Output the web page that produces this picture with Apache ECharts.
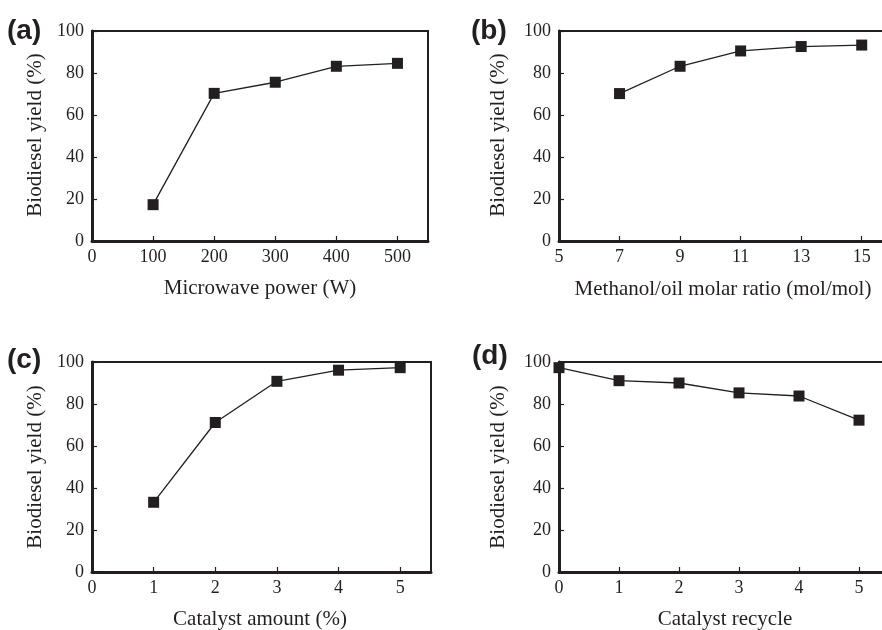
<!DOCTYPE html>
<html>
<head>
<meta charset="utf-8">
<script src="https://cdn.jsdelivr.net/npm/echarts@6/dist/echarts.min.js"></script>
<style>
  html, body { margin: 0; padding: 0; background: #fff; }
  #chart { width: 882px; height: 630px; }
</style>
</head>
<body>
<div id="chart"></div>
<script>
// data
const powerW = [100, 200, 300, 400, 500];
const yieldPower = [17.3, 70.3, 75.6, 83.2, 84.6];
const molarRatio = [7, 9, 11, 13, 15];
const yieldRatio = [70.2, 83.2, 90.5, 92.6, 93.3];
const catalystAmt = [1, 2, 3, 4, 5];
const yieldCatalyst = [33.2, 71.2, 90.8, 96.1, 97.3];
const recycleNo = [0, 1, 2, 3, 4, 5];
const yieldRecycle = [97.3, 91.1, 90.0, 85.3, 83.8, 72.3];

const ticksA = [0, 100, 200, 300, 400, 500];
const ticksB = [5, 7, 9, 11, 13, 15];
const ticksC = [0, 1, 2, 3, 4, 5];
const ticksD = [0, 1, 2, 3, 4, 5];

const ink = '#231f20';
const serif = 'Liberation Serif';

// (b) and (d) run past the right edge of the picture, as in the source
const grids = [
  { left: 92, top: 31, width: 336, height: 210 },
  { left: 559, top: 31, width: 333, height: 210 },
  { left: 92, top: 362, width: 339, height: 210 },
  { left: 559, top: 362, width: 330, height: 210 }
].map(g => Object.assign(g, {
  show: true, borderColor: ink, borderWidth: 2, backgroundColor: 'transparent',
  containLabel: false, outerBoundsMode: 'none'
}));

function xAx(i, min, max, ticks) {
  return {
    gridIndex: i, type: 'value', min: min, max: max,
    axisLine: { show: true, lineStyle: { color: ink, width: 3 } },
    axisTick: { show: true, inside: true, length: 5, lineStyle: { color: ink, width: 1.2 }, customValues: ticks },
    axisLabel: { color: ink, fontFamily: serif, fontSize: 18, margin: 7, customValues: ticks },
    splitLine: { show: false }
  };
}
function yAx(i) {
  return {
    gridIndex: i, type: 'value', min: 0, max: 100, interval: 20,
    axisLine: { show: true, lineStyle: { color: ink, width: 3 } },
    axisTick: { show: true, inside: true, length: 5, lineStyle: { color: ink, width: 1.2 } },
    axisLabel: { color: ink, fontFamily: serif, fontSize: 18, margin: 8 },
    splitLine: { show: false }
  };
}
function line(i, xs, ys) {
  return {
    type: 'line', xAxisIndex: i, yAxisIndex: i,
    data: xs.map((x, k) => [x, ys[k]]),
    symbol: 'rect', symbolSize: 11, clip: false,
    lineStyle: { color: ink, width: 1.3 },
    itemStyle: { color: ink }
  };
}
function txt(x, y, s, opts) {
  return Object.assign({
    type: 'text', x: x, y: y,
    style: { text: s, fill: ink, font: '21px "Liberation Serif"', align: 'center', verticalAlign: 'middle' }
  }, opts || {});
}
function tag(x, y, s) {
  return {
    type: 'text', x: x, y: y,
    style: { text: s, fill: ink, font: 'bold 28px "Liberation Sans"', align: 'left', verticalAlign: 'middle' }
  };
}
const ytitle = 'Biodiesel yield (%)';

const chart = echarts.init(document.getElementById('chart'));
chart.setOption({
  animation: false,
  backgroundColor: '#fff',
  grid: grids,
  xAxis: [xAx(0, 0, 550, ticksA), xAx(1, 5, 16, ticksB), xAx(2, 0, 5.5, ticksC), xAx(3, 0, 5.5, ticksD)],
  yAxis: [yAx(0), yAx(1), yAx(2), yAx(3)],
  series: [
    line(0, powerW, yieldPower),
    line(1, molarRatio, yieldRatio),
    line(2, catalystAmt, yieldCatalyst),
    line(3, recycleNo, yieldRecycle)
  ],
  graphic: [
    tag(7, 31, '(a)'), tag(471, 31, '(b)'), tag(7, 360, '(c)'), tag(472, 356, '(d)'),
    txt(35, 135, ytitle, { rotation: Math.PI / 2 }),
    txt(498, 135, ytitle, { rotation: Math.PI / 2 }),
    txt(35, 467, ytitle, { rotation: Math.PI / 2 }),
    txt(498, 467, ytitle, { rotation: Math.PI / 2 }),
    txt(260, 288, 'Microwave power (W)'),
    txt(723, 289, 'Methanol/oil molar ratio (mol/mol)'),
    txt(260, 619, 'Catalyst amount (%)'),
    txt(725, 619, 'Catalyst recycle')
  ]
});
</script>
</body>
</html>
